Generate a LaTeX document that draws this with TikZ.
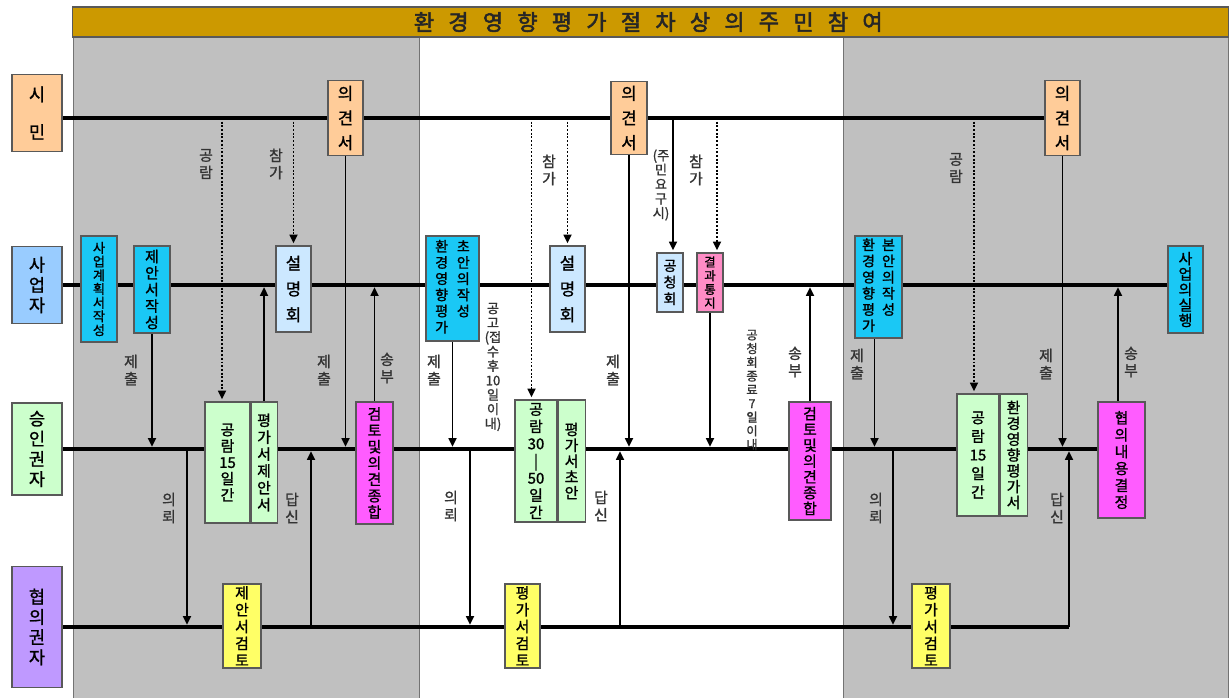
\documentclass[tikz,border=0pt]{standalone}
\usepackage{fontspec}
\setmainfont{Noto Sans CJK KR}[FakeBold=1.2]
\newfontfamily\titlefont{Noto Sans CJK KR}[FakeBold=2.5]
\usetikzlibrary{arrows.meta,positioning}
\definecolor{gold}{HTML}{CC9900}
\definecolor{panelgray}{HTML}{C0C0C0}
\definecolor{peach}{HTML}{FFCC99}
\definecolor{skyblue}{HTML}{99CCFF}
\definecolor{mint}{HTML}{CCFFCC}
\definecolor{lilac}{HTML}{BF99FF}
\definecolor{aqua}{HTML}{1AC8F5}
\definecolor{paleblue}{HTML}{CCE8FF}
\definecolor{rose}{HTML}{FF8CC6}
\definecolor{mag}{HTML}{FF5CFF}
\definecolor{lemon}{HTML}{FFFF66}
\pgfdeclarelayer{panel}
\pgfdeclarelayer{wire}
\pgfsetlayers{panel,wire,main}
\newcommand{\vstk}[1]{\begin{tabular}[t]{@{}c@{}}#1\end{tabular}}

\begin{document}
\begin{tikzpicture}[x=0.02cm, y=-0.02cm,
    box/.style={draw=black!65, line width=0.6pt, inner sep=0pt, align=center, font=\fontsize{8.5}{9.6}\selectfont},
    lanebox/.style={box, minimum width=1cm, font=\fontsize{10}{11.5}\selectfont},
    lane/.style={line width=2.3pt},
    flow/.style={line width=1.1pt, -{Triangle[length=5pt,width=4.5pt]}, shorten >=1.2pt},
    dotflow/.style={flow, densely dotted},
    lbl/.style={inner sep=0pt, align=center, text=black!80, font=\fontsize{8.5}{9.8}\selectfont}]
    \useasboundingbox (0,0) rectangle (1231,697);

    \node[box, fill=gold, minimum width=23.14cm, minimum height=0.6cm] (title) at (650.5,22) {};
    \foreach \c [count=\i from 0] in {환,경,영,향,평,가,절,차,상,의,주,민,참,여}
        \node[inner sep=0pt, text=black!85, font=\titlefont\fontsize{12.5}{14}\selectfont] (tc\i) at (424+34.5*\i,22) {\c};

    \node[lanebox, fill=peach, minimum height=1.54cm] (siMin) at (37,113) {시\\[10pt]민};
    \node[lanebox, fill=skyblue, minimum height=1.54cm] (saEop) at (37,285) {사\\업\\자};
    \node[lanebox, fill=mint, minimum height=1.84cm] (seungIn) at (37,449) {승\\인\\권\\자};
    \node[lanebox, fill=lilac, minimum height=2.42cm] (hyeopUi) at (37,627) {협\\의\\권\\자};

    \node[box, fill=peach, minimum width=0.7cm, minimum height=1.5cm, font=\fontsize{9.5}{14}\selectfont] (op1) at (345.5,118) {의\\견\\서};
    \node[box, fill=peach, minimum width=0.72cm, minimum height=1.46cm, font=\fontsize{9.5}{14}\selectfont] (op2) at (629,118) {의\\견\\서};
    \node[box, fill=peach, minimum width=0.7cm, minimum height=1.5cm, font=\fontsize{9.5}{14}\selectfont] (op3) at (1062.5,118) {의\\견\\서};

    \node[box, fill=aqua, minimum width=0.72cm, minimum height=2.12cm, font=\fontsize{7.5}{7.8}\selectfont] (plan) at (99,289) {사\\업\\계\\획\\서\\작\\성};
    \node[box, fill=aqua, minimum width=0.72cm, minimum height=1.74cm, font=\fontsize{8.5}{9.4}\selectfont] (prop) at (152,289.5) {제\\안\\서\\작\\성};
    \node[box, fill=paleblue, minimum width=0.7cm, minimum height=1.72cm, font=\fontsize{9.5}{14.7}\selectfont] (brief1) at (293.5,289) {설\\명\\회};
    \node[box, fill=aqua, minimum width=1.06cm, minimum height=2.1cm, font=\fontsize{8}{8.6}\selectfont] (draft) at (452.5,288.5) {\vstk{환\\경\\영\\향\\평\\가}\hspace{5pt}\vstk{초\\안\\의\\작\\성}};
    \node[box, fill=paleblue, minimum width=0.7cm, minimum height=1.72cm, font=\fontsize{9.5}{14.7}\selectfont] (brief2) at (567.5,289) {설\\명\\회};
    \node[box, fill=paleblue, minimum width=0.52cm, minimum height=1.18cm, font=\fontsize{8}{9.4}\selectfont] (hearing) at (670,282.5) {공\\청\\회};
    \node[box, fill=rose, minimum width=0.52cm, minimum height=1.18cm, font=\fontsize{7}{7.8}\selectfont] (notice) at (710,282.5) {결\\과\\통\\지};
    \node[box, fill=aqua, minimum width=0.94cm, minimum height=2.04cm, font=\fontsize{8}{8.6}\selectfont] (main) at (878.5,287) {\vstk{환\\경\\영\\향\\평\\가}\hspace{4pt}\vstk{본\\안\\의\\작\\성}};
    \node[box, fill=aqua, minimum width=0.7cm, minimum height=1.74cm, font=\fontsize{8.5}{8.8}\selectfont] (exec) at (1185.5,289.5) {사\\업\\의\\실\\행};

    \node[box, fill=mint, minimum width=0.9cm, minimum height=2.42cm, font=\fontsize{8.5}{9.3}\selectfont] (view1) at (227.5,462.5) {공\\람\\15\\일\\간};
    \node[box, fill=mint, minimum width=0.52cm, minimum height=2.42cm, right=0pt of view1] (doc1) {평\\가\\서\\제\\안\\서};
    \node[box, fill=mag, minimum width=0.74cm, minimum height=2.44cm, font=\fontsize{8.5}{9.3}\selectfont] (rev1) at (374.5,463) {검\\토\\및\\의\\견\\종\\합};
    \node[box, fill=mint, minimum width=0.84cm, minimum height=2.44cm, font=\fontsize{8.5}{9.8}\selectfont] (view2) at (536,461) {공\\람\\30\\|\\50\\일\\간};
    \node[box, fill=mint, minimum width=0.54cm, minimum height=2.44cm, font=\fontsize{8.5}{9}\selectfont, right=0pt of view2] (doc2) {평\\가\\서\\초\\안};
    \node[box, fill=mag, minimum width=0.84cm, minimum height=2.36cm, font=\fontsize{8.5}{9}\selectfont] (rev2) at (810,461) {검\\토\\및\\의\\견\\종\\합};
    \node[box, fill=mint, minimum width=0.84cm, minimum height=2.44cm, font=\fontsize{8.5}{10.6}\selectfont] (view3) at (978,455) {공\\람\\15\\일\\간};
    \node[box, fill=mint, minimum width=0.54cm, minimum height=2.44cm, font=\fontsize{8.5}{9}\selectfont, right=0pt of view3] (doc3) {환\\경\\영\\향\\평\\가\\서};
    \node[box, fill=mag, minimum width=0.94cm, minimum height=2.32cm] (decide) at (1121.5,460) {협\\의\\내\\용\\결\\정};

    \node[box, fill=lemon, minimum width=0.76cm, minimum height=1.68cm] (chk1) at (242,626) {제\\안\\서\\검\\토};
    \node[box, fill=lemon, minimum width=0.7cm, minimum height=1.68cm] (chk2) at (522.5,626) {평\\가\\서\\검\\토};
    \node[box, fill=lemon, minimum width=0.76cm, minimum height=1.68cm] (chk3) at (931,626) {평\\가\\서\\검\\토};

    \node[lbl] (tGr1) at (206,164) {공\\람};
    \node[lbl] (tCg1) at (276,164) {참\\가};
    \node[lbl] (tJc1) at (131,370) {제\\출};
    \node[lbl] (tJc2) at (324,370) {제\\출};
    \node[lbl] (tSb1) at (387,368) {송\\부};
    \node[lbl] (tUr1) at (169,508) {의\\뢰};
    \node[lbl] (tDs1) at (292,508) {답\\신};
    \node[lbl] (tJc3) at (434,370) {제\\출};
    \node[lbl, font=\fontsize{7.5}{8.2}\selectfont] (tGg) at (493,367) {공\\고\\(접\\수\\후\\10\\일\\이\\내)};
    \node[lbl] (tCg2) at (549,170) {참\\가};
    \node[lbl] (tJc4) at (613,370) {제\\출};
    \node[lbl, font=\fontsize{7.5}{8.2}\selectfont] (tReq) at (661,185) {(주\\민\\요\\구\\시)};
    \node[lbl] (tCg3) at (696,170) {참\\가};
    \node[lbl, font=\fontsize{7}{7.8}\selectfont] (tEnd) at (752,390) {공\\청\\회\\종\\료\\7\\일\\이\\내};
    \node[lbl] (tSb2) at (795,362) {송\\부};
    \node[lbl] (tUr2) at (451,506) {의\\뢰};
    \node[lbl] (tDs2) at (601,506) {답\\신};
    \node[lbl] (tGr3) at (956,168) {공\\람};
    \node[lbl] (tJc5) at (857,364) {제\\출};
    \node[lbl] (tJc6) at (1046,364) {제\\출};
    \node[lbl] (tSb3) at (1131,362) {송\\부};
    \node[lbl] (tUr3) at (876,508) {의\\뢰};
    \node[lbl] (tDs3) at (1057,508) {답\\신};

    \begin{pgfonlayer}{panel}
        \fill[white] (0,0) rectangle (1231,697);
        \draw[fill=panelgray, draw=black!55, line width=0.5pt] (73,37) rectangle (419,699);
        \draw[fill=panelgray, draw=black!55, line width=0.5pt] (843,37) rectangle (1228,699);
    \end{pgfonlayer}

    \begin{pgfonlayer}{wire}
        \draw[lane] (siMin.east |- op1) -- (op3);
        \draw[lane] (saEop.east) -- (saEop.east -| exec.west);
        \draw[lane] (seungIn.east) -- (seungIn.east -| decide.west);
        \coordinate (turn3) at (1069,627);
        \draw[lane] (hyeopUi.east) -- (turn3);
        \draw[flow] (turn3) -- (turn3 |- seungIn);

        \coordinate (g1) at ([xshift=-0.11cm]view1.north);
        \draw[dotflow] (g1 |- op1) -- (g1);
        \draw[dotflow] (brief1.north |- op1) -- (brief1.north);
        \draw[flow] (op1.south) -- (op1.south |- seungIn);
        \draw[flow] (prop.south) -- (prop.south |- seungIn);
        \draw[flow] (doc1.north) -- (doc1.north |- saEop);
        \draw[flow] (rev1.north) -- (rev1.north |- saEop);
        \coordinate (req1) at (187,449);
        \draw[flow] (req1) -- (req1 |- hyeopUi);
        \coordinate (ans1) at (311,627);
        \draw[flow] (ans1) -- (ans1 |- seungIn);

        \draw[flow] (draft.south) -- (draft.south |- seungIn);
        \coordinate (g2) at ([xshift=-0.09cm]view2.north);
        \draw[dotflow] (g2 |- op1) -- (g2);
        \draw[dotflow] (brief2.north |- op1) -- (brief2.north);
        \draw[flow] (op2.south) -- (op2.south |- seungIn);
        \coordinate (h1) at ([xshift=0.06cm]hearing.north);
        \draw[flow] (h1 |- op1) -- (h1);
        \coordinate (n1) at ([xshift=0.14cm]notice.north);
        \draw[dotflow] (n1 |- op1) -- (n1);
        \draw[flow] (notice.south) -- (notice.south |- seungIn);
        \draw[flow] (rev2.north) -- (rev2.north |- saEop);
        \coordinate (req2) at (470,449);
        \draw[flow] (req2) -- (req2 |- hyeopUi);
        \coordinate (ans2) at (620,627);
        \draw[flow] (ans2) -- (ans2 |- seungIn);

        \coordinate (m1) at ([xshift=-0.08cm]main.south);
        \draw[flow] (m1) -- (m1 |- seungIn);
        \coordinate (g3) at ([xshift=-0.08cm]view3.north);
        \draw[dotflow] (g3 |- op1) -- (g3);
        \draw[flow] (op3.south) -- (op3.south |- seungIn);
        \coordinate (d1) at ([xshift=-0.07cm]decide.north);
        \draw[flow] (d1) -- (d1 |- saEop);
        \coordinate (req3) at (893,449);
        \draw[flow] (req3) -- (req3 |- hyeopUi);
    \end{pgfonlayer}
\end{tikzpicture}
\end{document}
